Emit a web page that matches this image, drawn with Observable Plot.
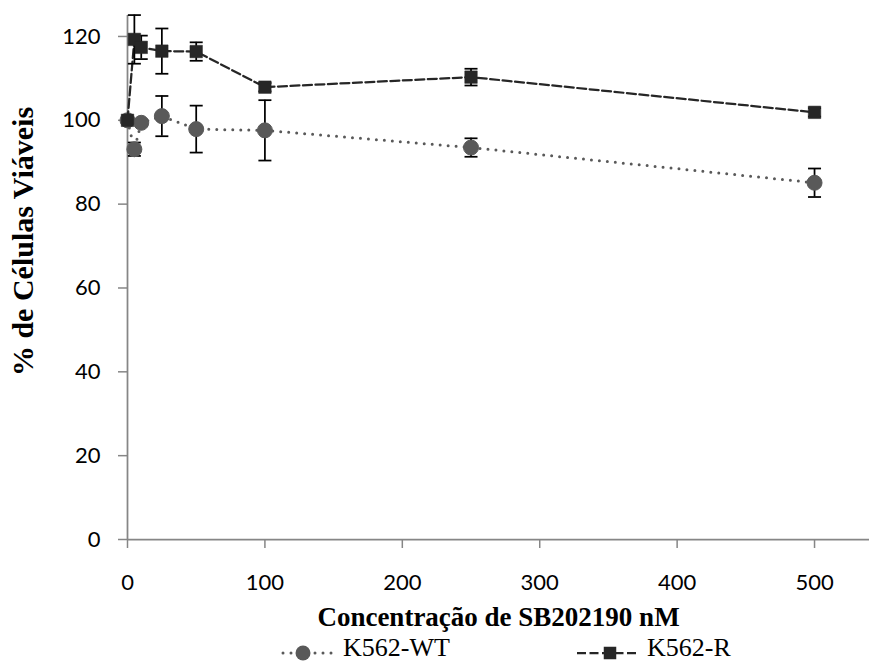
<!DOCTYPE html>
<html>
<head>
<meta charset="utf-8">
<script src="https://cdn.jsdelivr.net/npm/d3@7"></script>
<script src="https://cdn.jsdelivr.net/npm/@observablehq/plot@0.6"></script>
<style>
  body { margin: 0; background: #fff; }
  #wrap { width: 869px; height: 666px; position: relative; background: #fff; }
  #legend { position: relative; width: 869px; height: 36px; font-family: "Liberation Serif", "Times New Roman", serif; font-size: 26px; color: #000; }
  #legend .sw { position: absolute; top: 0; }
  #legend .lb { position: absolute; top: 3px; line-height: 30px; white-space: nowrap; }
</style>
</head>
<body>
<div id="wrap">
  <div id="chart"></div>
  <div id="legend"></div>
</div>
<script>
// ---- data ----
const concentrations = [0, 5, 10, 25, 50, 100, 250, 500];
const wtMean = [100, 93.1, 99.4, 101.0, 97.9, 97.6, 93.5, 85.1];
const wtErr  = [0, 1.6, 0.8, 4.8, 5.6, 7.2, 2.2, 3.4];
const rMean  = [100, 119.3, 117.4, 116.5, 116.4, 107.9, 110.3, 101.9];
const rErr   = [0, 5.8, 2.8, 5.4, 2.2, 1.0, 2.0, 1.0];
const seriesNames = ["K562-WT", "K562-R"];
const xTicks = [0, 100, 200, 300, 400, 500];
const yTicks = [0, 20, 40, 60, 80, 100, 120];
const xTitle = "Concentração de SB202190 nM";
const yTitle = "% de Células Viáveis";

const wtColor = "#595959";
const rColor = "#262626";
const axisGray = "#868686";

const wtRows = concentrations.map((c, i) => ({series: seriesNames[0], x: c, y: wtMean[i], err: wtErr[i]}));
const rRows  = concentrations.map((c, i) => ({series: seriesNames[1], x: c, y: rMean[i], err: rErr[i]}));

const capSymbol = { draw(ctx) { ctx.moveTo(-6.5, 0); ctx.lineTo(6.5, 0); } };

function errMarks(rows) {
  const e = rows.filter(d => d.err > 0);
  return [
    Plot.ruleX(e, {x: "x", y1: d => d.y - d.err, y2: d => d.y + d.err, stroke: "#000", strokeWidth: 1.75}),
    Plot.dot(e, {x: "x", y: d => d.y + d.err, symbol: capSymbol, stroke: "#000", strokeWidth: 1.75, fill: "none"}),
    Plot.dot(e, {x: "x", y: d => d.y - d.err, symbol: capSymbol, stroke: "#000", strokeWidth: 1.75, fill: "none"})
  ];
}

const tickFont = "Lato, 'Open Sans', sans-serif";
const titleFont = "'Liberation Serif', 'Times New Roman', serif";

const chart = Plot.plot({
  width: 869,
  height: 630,
  marginLeft: 127,
  marginRight: 0,
  marginTop: 15,
  marginBottom: 91,
  style: {background: "#fff", overflow: "visible"},
  x: {domain: [0, 540], label: null},
  y: {domain: [0, 125], label: null},
  marks: [
    Plot.axisY(yTicks, {tickSize: 9, tickPadding: 18, stroke: axisGray, strokeWidth: 1.5, fill: "#000", fontSize: 22, fontFamily: tickFont, label: null}),
    Plot.axisX(xTicks, {tickSize: 9, tickPadding: 26, stroke: axisGray, strokeWidth: 1.5, fill: "#000", fontSize: 22, fontFamily: tickFont, label: null}),
    Plot.ruleY([0], {stroke: axisGray, strokeWidth: 1.75}),
    Plot.ruleX([0], {stroke: axisGray, strokeWidth: 1.75}),
    // K562-WT
    Plot.line(wtRows, {x: "x", y: "y", stroke: wtColor, strokeWidth: 3, strokeDasharray: "0 8", strokeLinecap: "round"}),
    ...errMarks(wtRows),
    Plot.dot(wtRows, {x: "x", y: "y", r: 7.5, fill: wtColor, stroke: wtColor, strokeWidth: 1}),
    // K562-R
    Plot.line(rRows, {x: "x", y: "y", stroke: rColor, strokeWidth: 2.25, strokeDasharray: "9 3.5"}),
    ...errMarks(rRows),
    Plot.dot(rRows, {x: "x", y: "y", symbol: "square", r: 7.05, fill: rColor, stroke: rColor, strokeWidth: 0.5}),
    // titles
    Plot.text([xTitle], {text: d => d, frameAnchor: "bottom", textAnchor: "middle", dy: 78, lineAnchor: "middle", fontSize: 27, fontWeight: "bold", fontFamily: titleFont, fill: "#000"}),
    Plot.text([yTitle], {text: d => d, frameAnchor: "left", textAnchor: "middle", rotate: -90, dx: -104, dy: -36, lineAnchor: "middle", fontSize: 30, fontWeight: "bold", fontFamily: titleFont, fill: "#000"})
  ]
});
document.getElementById("chart").appendChild(chart);

// ---- legend ----
const legend = d3.select("#legend");
const items = [
  {name: seriesNames[0], swLeft: 280, swWidth: 58, markX: 23, labelLeft: 343, kind: "wt"},
  {name: seriesNames[1], swLeft: 575, swWidth: 66, markX: 35, labelLeft: 647, kind: "r"}
];
items.forEach(it => {
  const svg = legend.append("svg").attr("class", "sw")
    .style("left", it.swLeft + "px").attr("width", it.swWidth).attr("height", 36);
  if (it.kind === "wt") {
    svg.append("line").attr("x1", 3).attr("x2", it.swWidth - 2).attr("y1", 23).attr("y2", 23)
      .attr("stroke", wtColor).attr("stroke-width", 3).attr("stroke-dasharray", "0 8").attr("stroke-linecap", "round");
    svg.append("circle").attr("cx", it.markX).attr("cy", 23).attr("r", 7.5).attr("fill", wtColor);
  } else {
    svg.append("line").attr("x1", 2).attr("x2", it.swWidth - 2).attr("y1", 23).attr("y2", 23)
      .attr("stroke", rColor).attr("stroke-width", 2.25).attr("stroke-dasharray", "9 3.5");
    svg.append("rect").attr("x", it.markX - 6.25).attr("y", 23 - 6.25).attr("width", 12.5).attr("height", 12.5).attr("fill", rColor);
  }
  legend.append("span").attr("class", "lb").style("left", it.labelLeft + "px").text(it.name);
});
</script>
</body>
</html>
